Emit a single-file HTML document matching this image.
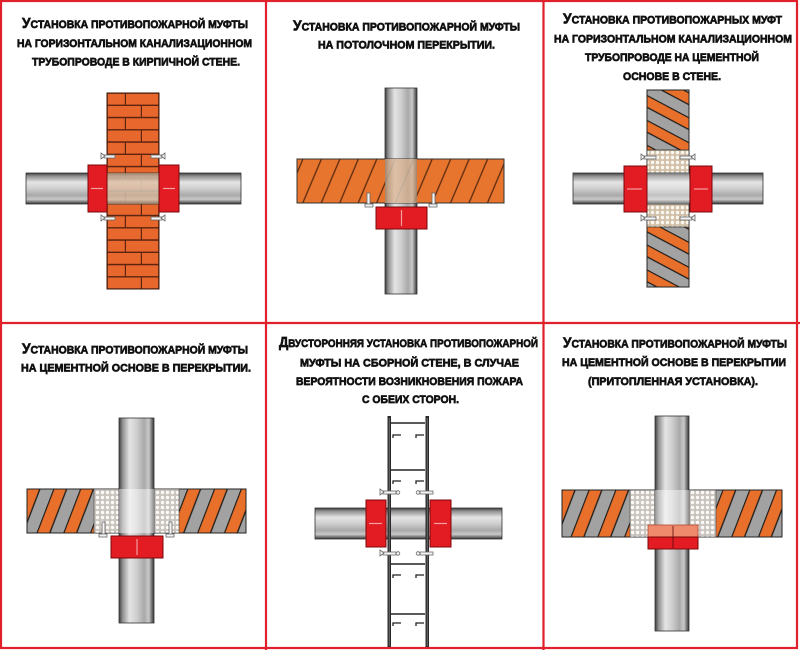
<!DOCTYPE html>
<html><head><meta charset="utf-8"><style>
html,body{margin:0;padding:0;background:#fff;}
svg{display:block;}
text{font-family:"Liberation Sans","DejaVu Sans",sans-serif;font-weight:bold;fill:#111;stroke:#111;stroke-width:0.65;text-transform:uppercase;}
</style></head><body>
<svg width="800" height="650" viewBox="0 0 800 650" xmlns="http://www.w3.org/2000/svg">
<defs>
  <linearGradient id="ph" x1="0" y1="0" x2="0" y2="1">
    <stop offset="0" stop-color="#3c3c3c"/>
    <stop offset="0.1" stop-color="#8e8e8e"/>
    <stop offset="0.3" stop-color="#e4e4e4"/>
    <stop offset="0.5" stop-color="#cfcfcf"/>
    <stop offset="0.72" stop-color="#a9a9a9"/>
    <stop offset="0.85" stop-color="#c9c9c9"/>
    <stop offset="0.95" stop-color="#666"/>
    <stop offset="1" stop-color="#333"/>
  </linearGradient>
  <linearGradient id="pv" x1="0" y1="0" x2="1" y2="0">
    <stop offset="0" stop-color="#3c3c3c"/>
    <stop offset="0.1" stop-color="#8e8e8e"/>
    <stop offset="0.3" stop-color="#e4e4e4"/>
    <stop offset="0.5" stop-color="#cfcfcf"/>
    <stop offset="0.72" stop-color="#a9a9a9"/>
    <stop offset="0.85" stop-color="#c9c9c9"/>
    <stop offset="0.95" stop-color="#666"/>
    <stop offset="1" stop-color="#333"/>
  </linearGradient>
  <pattern id="brick" patternUnits="userSpaceOnUse" x="107" y="93" width="52" height="24.5">
    <rect width="52" height="24.5" fill="#5e2410"/>
    <rect x="0.8" y="0.8" width="17" height="10.8" fill="#e8672d"/>
    <rect x="19" y="0.8" width="32.2" height="10.8" fill="#e8672d"/>
    <rect x="0.8" y="13" width="33" height="10.8" fill="#e8672d"/>
    <rect x="35" y="13" width="16.2" height="10.8" fill="#e8672d"/>
  </pattern>
  <pattern id="hatch" patternUnits="userSpaceOnUse" width="17" height="40" patternTransform="rotate(23)">
    <rect width="17" height="40" fill="#e8752e"/>
    <line x1="1" y1="0" x2="1" y2="40" stroke="#5a2a10" stroke-width="1.3"/>
  </pattern>
  <pattern id="str3" patternUnits="userSpaceOnUse" width="40" height="22" patternTransform="rotate(28)">
    <rect width="40" height="11" fill="#e8702a"/>
    <rect y="11" width="40" height="11" fill="#a2a2a2"/>
    <line x1="0" y1="0.5" x2="40" y2="0.5" stroke="#1a1a1a" stroke-width="1.3"/>
    <line x1="0" y1="11" x2="40" y2="11" stroke="#1a1a1a" stroke-width="1.3"/>
  </pattern>
  <pattern id="str4" patternUnits="userSpaceOnUse" width="25" height="40" patternTransform="rotate(21)">
    <rect width="12.5" height="40" fill="#e8702a"/>
    <rect x="12.5" width="12.5" height="40" fill="#a2a2a2"/>
    <line x1="0.5" y1="0" x2="0.5" y2="40" stroke="#1a1a1a" stroke-width="1.3"/>
    <line x1="12.5" y1="0" x2="12.5" y2="40" stroke="#1a1a1a" stroke-width="1.3"/>
  </pattern>
  <pattern id="dots" patternUnits="userSpaceOnUse" width="5" height="5">
    <rect width="5" height="5" fill="#d2c0a8"/>
    <circle cx="2.5" cy="2.5" r="1.7" fill="#fbf8f2"/>
  </pattern>
  <pattern id="dots2" patternUnits="userSpaceOnUse" width="5" height="5">
    <rect width="5" height="5" fill="#c9c3bd"/>
    <circle cx="2.5" cy="2.5" r="1.7" fill="#fbfaf8"/>
  </pattern>
</defs>

<rect width="800" height="650" fill="#fff"/>

<!-- ============ PANEL 1 ============ -->
<text x="22" y="28" textLength="226" lengthAdjust="spacingAndGlyphs" font-size="11"><tspan font-size="14.5">У</tspan>становка противопожарной муфты</text>
<text x="17" y="47" textLength="235" lengthAdjust="spacingAndGlyphs" font-size="11">на горизонтальном канализационном</text>
<text x="32" y="65.5" textLength="208" lengthAdjust="spacingAndGlyphs" font-size="11">трубопроводе в кирпичной стене.</text>

<rect x="107" y="93" width="52" height="196" fill="url(#brick)" stroke="#3b1a0c" stroke-width="1"/>
<rect x="26" y="173" width="215" height="31" fill="url(#ph)" stroke="#333" stroke-width="0.8"/>
<rect x="107" y="173" width="52" height="31" fill="url(#brick)" opacity="0.22"/>
<rect x="107" y="173" width="52" height="31" fill="#dcc2a2" opacity="0.5"/>
<rect x="88" y="165" width="19" height="47" fill="#e31b23" stroke="#7a0a0a" stroke-width="1"/>
<rect x="159" y="165" width="20" height="47" fill="#e31b23" stroke="#7a0a0a" stroke-width="1"/>
<line x1="91" y1="188.5" x2="103" y2="188.5" stroke="#f2a0a0" stroke-width="1.2"/>
<line x1="163" y1="188.5" x2="175" y2="188.5" stroke="#f2a0a0" stroke-width="1.2"/>
<g stroke="#666" stroke-width="0.8" fill="#f4f4f4">
  <rect x="104" y="155" width="11" height="3" /><path d="M101 153 l4 3 l-4 3 z"/>
  <rect x="151" y="155" width="11" height="3" /><path d="M165 153 l-4 3 l4 3 z"/>
  <rect x="104" y="217" width="11" height="3" /><path d="M101 215 l4 3 l-4 3 z"/>
  <rect x="151" y="217" width="11" height="3" /><path d="M165 215 l-4 3 l4 3 z"/>
</g>

<!-- ============ PANEL 2 ============ -->
<text x="293" y="30.5" textLength="227" lengthAdjust="spacingAndGlyphs" font-size="11"><tspan font-size="14.5">У</tspan>становка противопожарной муфты</text>
<text x="318" y="48.5" textLength="177" lengthAdjust="spacingAndGlyphs" font-size="11">на потолочном перекрытии.</text>

<rect x="385" y="88" width="32" height="206" fill="url(#pv)" stroke="#333" stroke-width="0.8"/>
<rect x="297" y="159" width="207" height="44" fill="url(#hatch)" stroke="#333" stroke-width="1"/>
<rect x="385" y="159" width="32" height="44" fill="url(#pv)"/>
<rect x="385" y="159" width="32" height="44" fill="url(#hatch)" opacity="0.3"/>
<rect x="385" y="159" width="32" height="44" fill="#d8bda0" opacity="0.5"/>
<g stroke="#666" stroke-width="0.8" fill="#f4f4f4">
  <rect x="367" y="193" width="3" height="13"/><rect x="365" y="204" width="8" height="3"/>
  <rect x="432" y="193" width="3" height="13"/><rect x="429" y="204" width="8" height="3"/>
</g>
<rect x="376" y="207" width="51" height="22" fill="#e31b23" stroke="#7a0a0a" stroke-width="1"/>
<line x1="401.5" y1="210" x2="401.5" y2="226" stroke="#f2a0a0" stroke-width="1.2"/>

<!-- ============ PANEL 3 ============ -->
<text x="563" y="23.5" textLength="219" lengthAdjust="spacingAndGlyphs" font-size="11"><tspan font-size="14.5">У</tspan>становка противопожарных муфт</text>
<text x="554" y="42.5" textLength="238" lengthAdjust="spacingAndGlyphs" font-size="11">на горизонтальном канализационном</text>
<text x="585" y="61" textLength="174" lengthAdjust="spacingAndGlyphs" font-size="11">трубопроводе на цементной</text>
<text x="623" y="80" textLength="98" lengthAdjust="spacingAndGlyphs" font-size="11">основе в стене.</text>

<rect x="647" y="90" width="42" height="197" fill="url(#str3)" stroke="#222" stroke-width="1"/>
<rect x="647" y="150" width="42" height="77" fill="url(#dots)" stroke="#333" stroke-width="0.8"/>
<rect x="573" y="173" width="190" height="31" fill="url(#ph)" stroke="#333" stroke-width="0.8"/>
<rect x="647" y="173" width="42" height="31" fill="#fff" opacity="0.3"/>
<rect x="624" y="166" width="23" height="46" fill="#e31b23" stroke="#7a0a0a" stroke-width="1"/>
<rect x="690" y="166" width="22" height="46" fill="#e31b23" stroke="#7a0a0a" stroke-width="1"/>
<line x1="627" y1="189" x2="642" y2="189" stroke="#f2a0a0" stroke-width="1.2"/>
<line x1="694" y1="189" x2="708" y2="189" stroke="#f2a0a0" stroke-width="1.2"/>
<g stroke="#666" stroke-width="0.8" fill="#f4f4f4">
  <rect x="644" y="156" width="12" height="3"/><path d="M641 154 l4 3 l-4 3 z"/>
  <rect x="680" y="156" width="12" height="3"/><path d="M695 154 l-4 3 l4 3 z"/>
  <rect x="644" y="217" width="12" height="3"/><path d="M641 215 l4 3 l-4 3 z"/>
  <rect x="680" y="217" width="12" height="3"/><path d="M695 215 l-4 3 l4 3 z"/>
</g>

<!-- ============ PANEL 4 ============ -->
<text x="22" y="353.5" textLength="226" lengthAdjust="spacingAndGlyphs" font-size="11"><tspan font-size="14.5">У</tspan>становка противопожарной муфты</text>
<text x="21" y="371.5" textLength="230" lengthAdjust="spacingAndGlyphs" font-size="11">на цементной основе в перекрытии.</text>

<rect x="27" y="489" width="219" height="44" fill="url(#str4)" stroke="#222" stroke-width="1"/>
<rect x="94" y="489" width="85" height="44" fill="url(#dots2)" stroke="#444" stroke-width="0.6"/>
<rect x="119" y="418" width="35" height="205" fill="url(#pv)" stroke="#333" stroke-width="0.8"/>
<rect x="119" y="489" width="35" height="44" fill="#fff" opacity="0.45"/>
<g stroke="#666" stroke-width="0.8" fill="#f4f4f4">
  <rect x="102" y="522" width="3" height="14"/><rect x="99" y="534" width="8" height="3"/>
  <rect x="169" y="522" width="3" height="14"/><rect x="166" y="534" width="8" height="3"/>
</g>
<rect x="111" y="536" width="52" height="22" fill="#e31b23" stroke="#7a0a0a" stroke-width="1"/>
<line x1="137" y1="539" x2="137" y2="555" stroke="#f2a0a0" stroke-width="1.2"/>

<!-- ============ PANEL 5 ============ -->
<text x="279" y="347" textLength="259" lengthAdjust="spacingAndGlyphs" font-size="11"><tspan font-size="14.5">Д</tspan>вусторонняя установка противопожарной</text>
<text x="300" y="366.5" textLength="219" lengthAdjust="spacingAndGlyphs" font-size="11">муфты на сборной стене, в случае</text>
<text x="296" y="385" textLength="227" lengthAdjust="spacingAndGlyphs" font-size="11">вероятности возникновения пожара</text>
<text x="362" y="403" textLength="97" lengthAdjust="spacingAndGlyphs" font-size="11">с обеих сторон.</text>

<rect x="315" y="508" width="187" height="31" fill="url(#ph)" stroke="#333" stroke-width="0.8"/>
<g stroke="#222" stroke-width="1.6">
  <line x1="391" y1="423" x2="425" y2="423"/>
  <line x1="391" y1="470" x2="425" y2="470"/>
  <line x1="391" y1="564" x2="425" y2="564"/>
  <line x1="391" y1="614" x2="425" y2="614"/>
</g>
<g stroke="#222" stroke-width="1.3" fill="none">
  <path d="M393 438 v-3 h8"/><path d="M416 438 v-3 h8"/>
  <path d="M393 484 v-3 h8"/><path d="M416 484 v-3 h8"/>
  <path d="M393 578 v-3 h8"/><path d="M416 578 v-3 h8"/>
  <path d="M393 626 v-3 h8"/><path d="M416 626 v-3 h8"/>
</g>
<rect x="387.5" y="416" width="3.5" height="231" fill="#2a2a2a"/>
<rect x="425.5" y="416" width="3.5" height="231" fill="#2a2a2a"/>
<line x1="389.2" y1="418" x2="389.2" y2="646" stroke="#888" stroke-width="0.7"/>
<line x1="427.2" y1="418" x2="427.2" y2="646" stroke="#888" stroke-width="0.7"/>
<rect x="366" y="500" width="20" height="47" fill="#e31b23" stroke="#7a0a0a" stroke-width="1"/>
<rect x="430" y="500" width="21" height="47" fill="#e31b23" stroke="#7a0a0a" stroke-width="1"/>
<line x1="369" y1="523.5" x2="382" y2="523.5" stroke="#f2a0a0" stroke-width="1.2"/>
<line x1="434" y1="523.5" x2="447" y2="523.5" stroke="#f2a0a0" stroke-width="1.2"/>
<g stroke="#666" stroke-width="0.8" fill="#f4f4f4">
  <rect x="383" y="491" width="13" height="3"/><path d="M380 489 l4 3 l-4 3 z"/><circle cx="398" cy="492.5" r="1.8"/>
  <rect x="420" y="491" width="13" height="3"/><circle cx="418" cy="492.5" r="1.8"/>
  <rect x="383" y="552" width="13" height="3"/><path d="M380 550 l4 3 l-4 3 z"/><circle cx="398" cy="553.5" r="1.8"/>
  <rect x="420" y="552" width="13" height="3"/><circle cx="418" cy="553.5" r="1.8"/>
</g>

<!-- ============ PANEL 6 ============ -->
<text x="563" y="347.5" textLength="224" lengthAdjust="spacingAndGlyphs" font-size="11"><tspan font-size="14.5">У</tspan>становка противопожарной муфты</text>
<text x="562" y="366" textLength="224" lengthAdjust="spacingAndGlyphs" font-size="11">на цементной основе в перекрытии</text>
<text x="588" y="385" textLength="170" lengthAdjust="spacingAndGlyphs" font-size="11">(притопленная установка).</text>

<rect x="562" y="490" width="220" height="47" fill="url(#str4)" stroke="#222" stroke-width="1"/>
<rect x="630" y="490" width="86" height="47" fill="url(#dots2)" stroke="#444" stroke-width="0.6"/>
<rect x="655" y="416" width="34" height="215" fill="url(#pv)" stroke="#333" stroke-width="0.8"/>
<rect x="655" y="490" width="34" height="35" fill="#fff" opacity="0.45"/>
<rect x="648" y="525" width="50" height="12" fill="#f08a6c" stroke="#b04a30" stroke-width="0.8"/>
<rect x="648" y="537" width="50" height="12" fill="#e31b23" stroke="#7a0a0a" stroke-width="1"/>
<line x1="673" y1="526" x2="673" y2="548" stroke="#5a0a0a" stroke-width="0.8"/>

<!-- ============ RED GRID ============ -->
<g stroke="#e0202a" stroke-width="2.2" fill="none">
  <rect x="1" y="1" width="796" height="647"/>
  <line x1="266" y1="0" x2="266" y2="650"/>
  <line x1="543.5" y1="0" x2="543.5" y2="650"/>
  <line x1="0" y1="323" x2="800" y2="323"/>
</g>
</svg>
</body></html>
